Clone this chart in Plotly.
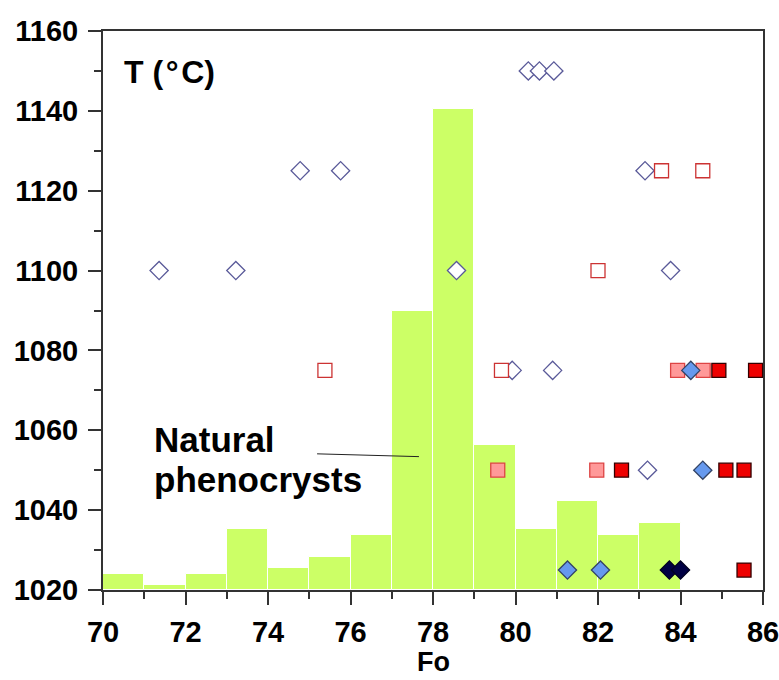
import plotly.graph_objects as go

# Histogram of natural phenocrysts (plotted on T scale)
bin_centers = [70.5, 71.5, 72.5, 73.5, 74.5, 75.5, 76.5, 77.5, 78.5, 79.5, 80.5, 81.5, 82.5, 83.5]
bar_tops = [1024.0, 1021.2, 1024.0, 1035.3, 1025.6, 1028.3, 1033.9, 1090.0, 1140.5, 1056.3, 1035.3, 1042.4, 1033.9, 1036.7]
bar_base = 1020

# Experimental series
open_diamond_fo = [71.36, 73.22, 74.78, 75.76, 80.31, 80.58, 80.93, 83.14, 78.57, 83.76, 79.92, 80.90, 83.20]
open_diamond_t = [1100, 1100, 1125, 1125, 1150, 1150, 1150, 1125, 1100, 1100, 1075, 1075, 1050]

open_square_fo = [75.38, 79.66, 83.54, 84.54, 82.00]
open_square_t = [1075, 1075, 1125, 1125, 1100]

pink_square_fo = [79.57, 81.97, 83.93, 84.55]
pink_square_t = [1050, 1050, 1075, 1075]

red_square_fo = [82.57, 84.93, 85.82, 85.10, 85.54, 85.54]
red_square_t = [1050, 1075, 1075, 1050, 1050, 1025]

blue_diamond_fo = [84.25, 84.54, 81.26, 82.06]
blue_diamond_t = [1075, 1050, 1025, 1025]

navy_diamond_fo = [83.73, 84.00]
navy_diamond_t = [1025, 1025]

x_ticks = [70, 72, 74, 76, 78, 80, 82, 84, 86]
y_ticks = [1020, 1040, 1060, 1080, 1100, 1120, 1140, 1160]

FONT = "Liberation Sans, Arial, sans-serif"

fig = go.Figure()

fig.add_trace(go.Bar(
    x=bin_centers,
    y=[t - bar_base for t in bar_tops],
    base=bar_base,
    width=1,
    marker=dict(color="#CCFF66", line=dict(color="#FFFFFF", width=1)),
    showlegend=False,
))

def add_markers(xs, ys, symbol, size, fill, line_color, line_width):
    fig.add_trace(go.Scatter(
        x=xs, y=ys, mode="markers",
        marker=dict(symbol=symbol, size=size, color=fill,
                    line=dict(color=line_color, width=line_width)),
        showlegend=False,
        cliponaxis=False,
    ))

add_markers(open_diamond_fo, open_diamond_t, "diamond", 14, "#FFFFFF", "#5A5A99", 1.3)
add_markers(open_square_fo, open_square_t, "square", 14, "#FFFFFF", "#CC3333", 1.3)
add_markers(pink_square_fo, pink_square_t, "square", 14, "#FF9999", "#DD4444", 1.3)
add_markers(red_square_fo, red_square_t, "square", 14, "#EE0000", "#330000", 1.3)
add_markers(blue_diamond_fo, blue_diamond_t, "diamond", 14, "#6699EE", "#334466", 1.3)
add_markers(navy_diamond_fo, navy_diamond_t, "diamond", 14, "#000044", "#000022", 1.3)

# Label line for the histogram
fig.add_shape(type="line", x0=75.19, y0=1054.1, x1=77.66, y1=1053.4,
              line=dict(color="#222222", width=1))

label_font = dict(family=FONT, size=35, color="#000000", weight="bold")
fig.add_annotation(x=71.19, y=1057.6, xref="x", yref="y",
                   text="Natural", showarrow=False,
                   xanchor="left", yanchor="middle", font=label_font)
fig.add_annotation(x=71.19, y=1047.6, xref="x", yref="y",
                   text="phenocrysts", showarrow=False,
                   xanchor="left", yanchor="middle", font=label_font)

fig.add_annotation(x=70.46, y=1149.8, xref="x", yref="y",
                   text="T (\u200a°\u200aC)", showarrow=False,
                   xanchor="left", yanchor="middle",
                   font=dict(family=FONT, size=32, color="#000000", weight="bold"))

# x-axis title
fig.add_annotation(x=0.5, y=-0.1288, xref="paper", yref="paper",
                   text="Fo", showarrow=False,
                   xanchor="center", yanchor="middle",
                   font=dict(family=FONT, size=27, color="#000000", weight="bold"))

axis_common = dict(
    showgrid=False, zeroline=False, automargin=False,
    showline=True, linecolor="#333333", linewidth=2, mirror=True,
    ticks="outside", ticklen=13, tickwidth=1.5, tickcolor="#333333",
    tickfont=dict(family=FONT, size=29, color="#000000", weight="bold"),
    ticklabeloverflow="allow",
)

fig.update_xaxes(
    range=[70, 86], tickvals=x_ticks, ticktext=[str(v) for v in x_ticks],
    minor=dict(dtick=1, ticks="outside", ticklen=7, tickwidth=1.5, tickcolor="#333333", showgrid=False),
    ticklabelstandoff=2,
    **axis_common,
)
fig.update_yaxes(
    range=[1020, 1160], tickvals=y_ticks, ticktext=[str(v) for v in y_ticks],
    minor=dict(dtick=10, ticks="outside", ticklen=7, tickwidth=1.5, tickcolor="#333333", showgrid=False),
    ticklabelstandoff=4,
    **axis_common,
)

fig.update_layout(
    width=779, height=680,
    margin=dict(l=103, r=16, t=31, b=90),
    plot_bgcolor="#FFFFFF", paper_bgcolor="#FFFFFF",
    bargap=0, showlegend=False,
)

fig.write_html("out.html")
